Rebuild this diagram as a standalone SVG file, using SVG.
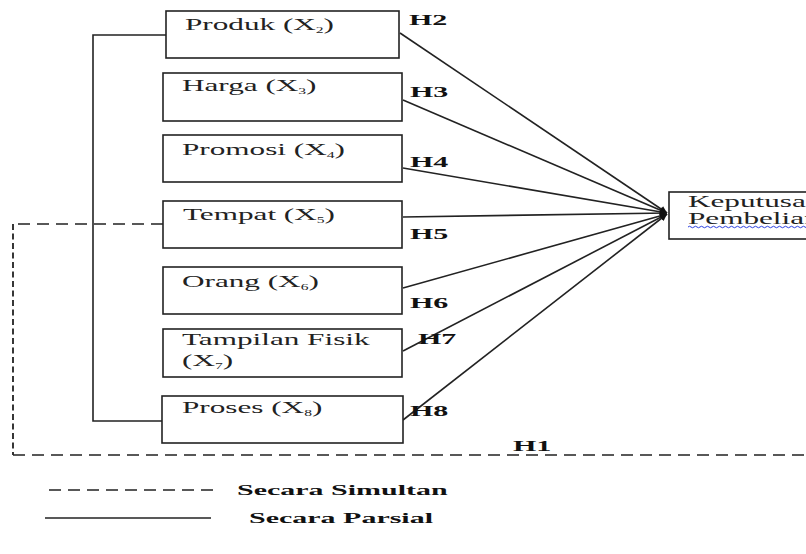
<svg xmlns="http://www.w3.org/2000/svg" width="806" height="554" viewBox="0 0 806 554">
<style>
.box{fill:#fff;stroke:#222;stroke-width:1.6}
.lbl{font-family:"Liberation Serif","Times New Roman",serif;font-size:16px;fill:#222}
.sub{font-size:8px}
.h{font-family:"Liberation Serif","Times New Roman",serif;font-size:15px;font-weight:bold;fill:#111}
.ln{stroke:#222;stroke-width:1.6;fill:none}
.dash{stroke:#222;stroke-width:1.6;fill:none;stroke-dasharray:12 7}
.vdash{stroke:#222;stroke-width:1.8;fill:none;stroke-dasharray:6 3.5}
</style>
<defs>
<marker id="arr" viewBox="0 0 10 10" refX="10" refY="5" markerWidth="12" markerHeight="7" markerUnits="userSpaceOnUse" orient="auto">
<path d="M0,0 L10,5 L0,10 z" fill="#111"/>
</marker>
</defs>
<g id="connectors">
<path class="ln" d="M166,35 H93 V421 H162"/>
<path class="dash" d="M163,224 H13"/>
<path class="vdash" d="M13,224 V455"/>
<path class="dash" d="M13,455 H806"/>
<line class="ln" x1="400" y1="33" x2="667" y2="213" marker-end="url(#arr)"/>
<line class="ln" x1="403" y1="100" x2="667" y2="213" marker-end="url(#arr)"/>
<line class="ln" x1="403" y1="168" x2="667" y2="213" marker-end="url(#arr)"/>
<line class="ln" x1="403" y1="217" x2="667" y2="213" marker-end="url(#arr)"/>
<line class="ln" x1="403" y1="288" x2="667" y2="214" marker-end="url(#arr)"/>
<line class="ln" x1="403" y1="351" x2="667" y2="214" marker-end="url(#arr)"/>
<line class="ln" x1="403" y1="420" x2="667" y2="214" marker-end="url(#arr)"/>
<text class="h" transform="translate(409,25) scale(2,1)">H2</text>
<text class="h" transform="translate(410,97) scale(2,1)">H3</text>
<text class="h" transform="translate(410,167) scale(2,1)">H4</text>
<text class="h" transform="translate(410,239) scale(2,1)">H5</text>
<text class="h" transform="translate(410,308) scale(2,1)">H6</text>
<text class="h" transform="translate(418,344) scale(2,1)">H7</text>
<text class="h" transform="translate(410,416) scale(2,1)">H8</text>
<text class="h" transform="translate(513,451) scale(2,1)">H1</text>
</g>
<g id="produk">
<rect class="box" x="166" y="11" width="233" height="47"/>
<text class="lbl" transform="translate(185,30) scale(1.95,1)">Produk (X<tspan class="sub" dy="3">2</tspan><tspan dy="-3">)</tspan></text>
</g>
<g id="harga">
<rect class="box" x="163" y="73" width="239" height="48"/>
<text class="lbl" transform="translate(182,91) scale(1.95,1)">Harga (X<tspan class="sub" dy="3">3</tspan><tspan dy="-3">)</tspan></text>
</g>
<g id="promosi">
<rect class="box" x="163" y="135" width="239" height="47"/>
<text class="lbl" transform="translate(182,155) scale(1.95,1)">Promosi (X<tspan class="sub" dy="3">4</tspan><tspan dy="-3">)</tspan></text>
</g>
<g id="tempat">
<rect class="box" x="163" y="201" width="239" height="47"/>
<text class="lbl" transform="translate(183,220) scale(1.95,1)">Tempat (X<tspan class="sub" dy="3">5</tspan><tspan dy="-3">)</tspan></text>
</g>
<g id="orang">
<rect class="box" x="163" y="267" width="239" height="47"/>
<text class="lbl" transform="translate(182,287) scale(1.95,1)">Orang (X<tspan class="sub" dy="3">6</tspan><tspan dy="-3">)</tspan></text>
</g>
<g id="tampilan">
<rect class="box" x="163" y="329" width="239" height="48"/>
<text class="lbl" transform="translate(182,345) scale(1.95,1)">Tampilan Fisik</text>
<text class="lbl" transform="translate(182,366) scale(1.95,1)">(X<tspan class="sub" dy="3">7</tspan><tspan dy="-3">)</tspan></text>
</g>
<g id="proses">
<rect class="box" x="162" y="396" width="241" height="47"/>
<text class="lbl" transform="translate(182,413) scale(1.95,1)">Proses (X<tspan class="sub" dy="3">8</tspan><tspan dy="-3">)</tspan></text>
</g>
<g id="keputusan">
<rect class="box" x="669" y="192" width="200" height="47"/>
<text class="lbl" transform="translate(688,207) scale(1.95,1)">Keputusan</text>
<text class="lbl" transform="translate(688,224) scale(1.95,1)">Pembelian</text>
<path d="M688,227 q1.5,-1.5 3,0 t3,0 t3,0 t3,0 t3,0 t3,0 t3,0 t3,0 t3,0 t3,0 t3,0 t3,0 t3,0 t3,0 t3,0 t3,0 t3,0 t3,0 t3,0 t3,0 t3,0 t3,0 t3,0 t3,0 t3,0 t3,0 t3,0 t3,0 t3,0 t3,0 t3,0 t3,0 t3,0 t3,0 t3,0 t3,0 t3,0 t3,0 t3,0 t3,0" fill="none" stroke="#2b3fe0" stroke-width="1"/>
</g>
<g id="legend">
<line class="dash" x1="49" y1="490" x2="220" y2="490"/>
<text class="h" transform="translate(237,495) scale(2,1)">Secara Simultan</text>
<line class="ln" x1="45" y1="518" x2="211" y2="518"/>
<text class="h" transform="translate(249,523) scale(2,1)">Secara Parsial</text>
</g>
</svg>
